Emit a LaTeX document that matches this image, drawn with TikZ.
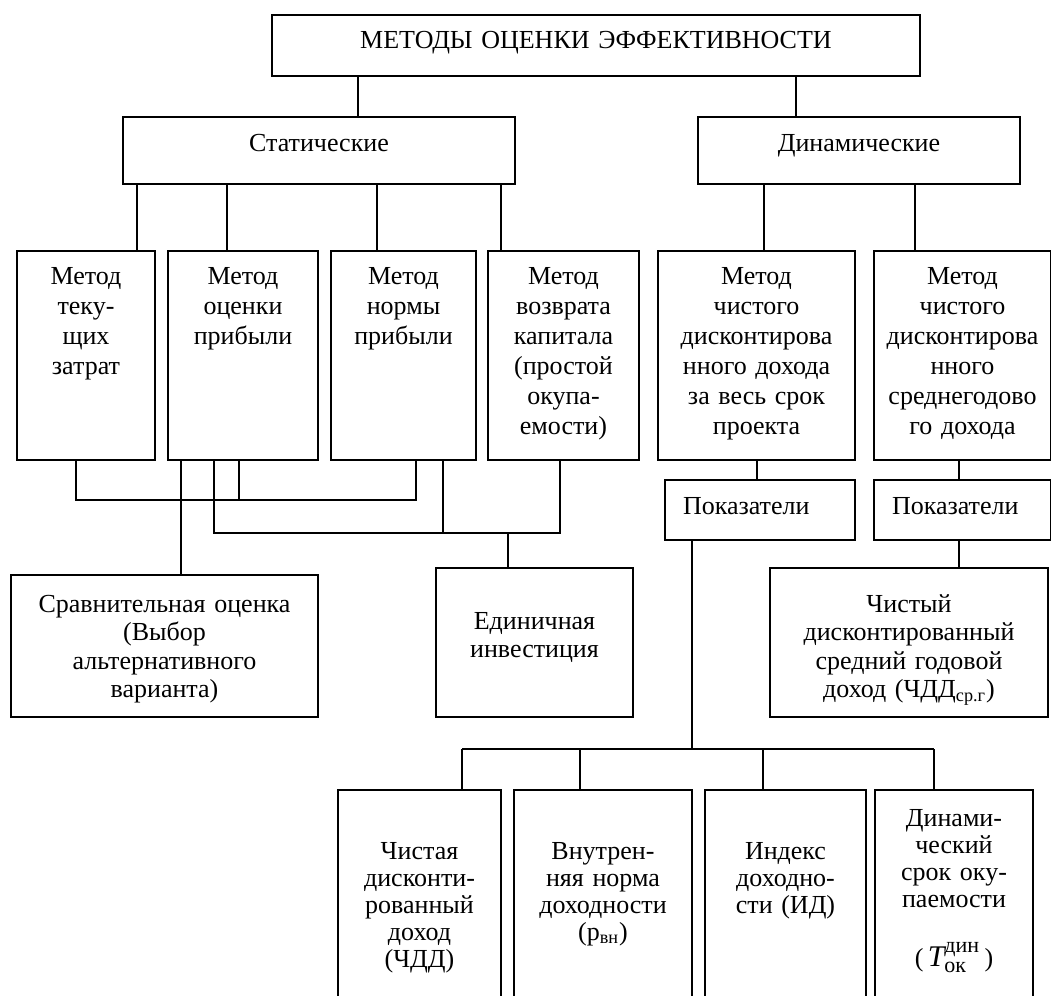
\documentclass[tikz,border=0pt]{standalone}
\usepackage{fontspec}
\setmainfont{Liberation Serif}

\tikzset{
  box/.style={draw, line width=0.75pt, anchor=north, align=center, inner xsep=2pt, inner ysep=0pt, font=\fontsize{13}{15}\selectfont},
  head/.style={box, text height=17.5pt, text depth=16pt},
  method/.style={box, text height=16.75pt, text depth=87.75pt},
  indic/.style={box, align=left, inner xsep=9pt, text height=17.25pt, text depth=12.75pt},
  result/.style={box, font=\fontsize{13}{14.25}\selectfont},
  crit/.style={box, font=\fontsize{13}{13.5}\selectfont, text height=34.75pt, text depth=80pt},
  link/.style={line width=0.75pt},
}

\begin{document}
\begin{tikzpicture}[x=0.5pt, y=-0.5pt]
\useasboundingbox (0,0) rectangle (1051,996);
\clip (0,0) rectangle (1051,996);

% upper levels
\node[box, text width=320pt, text height=17pt, text depth=13.5pt] (top) at (596,14) {МЕТОДЫ ОЦЕНКИ ЭФФЕКТИВНОСТИ};
\node[head, text width=192pt] (stat) at (319,116) {Статические};
\node[head, text width=157pt] (dyn) at (859,116) {Динамические};

% methods
\node[method, text width=65pt] (m1) at (86,250) {Метод\\теку-\\щих\\затрат};
\node[method, text width=71pt] (m2) at (243,250) {Метод\\оценки\\прибыли};
\node[method, text width=68.5pt] (m3) at (403.5,250) {Метод\\нормы\\прибыли};
\node[method, text width=71.5pt] (m4) at (563.5,250) {Метод\\возврата\\капитала\\(простой\\окупа-\\емости)};
\node[method, text width=94.5pt] (m5) at (756.5,250) {Метод\\чистого\\дисконтирова\\нного дохода\\за весь срок\\проекта};
\node[method, text width=84.5pt] (m6) at (962.5,250) {Метод\\чистого\\дисконтирова\\нного\\среднегодово\\го дохода};

% indicators
\node[indic, text width=77pt] (p1) at (760,479) {Показатели};
\node[indic, text width=70.5pt] (p2) at (962.5,479) {Показатели};

% results
\node[result, text width=149.5pt, text height=18.75pt, text depth=52.25pt] (cmp) at (164.5,574) {Сравнительная оценка\\(Выбор\\альтернативного\\варианта)};
\node[result, text width=94.5pt, text height=30.75pt, text depth=43.75pt] (single) at (534.5,567) {Единичная\\инвестиция};
\node[result, text width=135pt, text height=22.25pt, text depth=52.25pt] (avg) at (909,567) {Чистый\\дисконтированный\\средний годовой\\доход (ЧДД\textsubscript{ср.г})};

% criteria
\node[crit, text width=77.5pt] (c1) at (419.5,789) {Чистая\\дисконти-\\рованный\\доход\\(ЧДД)};
\node[crit, text width=85pt] (c2) at (603,789) {Внутрен-\\няя норма\\доходности\\(р\textsubscript{вн})};
\node[crit, text width=76.5pt] (c3) at (785.5,789) {Индекс\\доходно-\\сти (ИД)};
\node[crit, text width=75pt, text height=18.25pt, text depth=96.5pt] (c4) at (954,789) {Динами-\\ческий\\срок оку-\\паемости\\[16pt](\,$\mbox{\fontsize{15}{15}\selectfont\itshape T}^{\mbox{\fontsize{11}{11}\selectfont дин}}_{\mbox{\fontsize{11}{11}\selectfont ок}}$\,)};

\coordinate (busA) at (0,500);
\coordinate (busB) at (0,533);
\coordinate (busC) at (0,749);

\draw[link] (top.south -| 358,0) -- (stat.north -| 358,0);
\draw[link] (top.south -| 796,0) -- (dyn.north -| 796,0);
\foreach \x/\m in {137/m1, 227/m2, 377/m3, 501/m4}
  \draw[link] (stat.south -| \x,0) -- (\m.north -| \x,0);
\foreach \x/\m in {764/m5, 915/m6}
  \draw[link] (dyn.south -| \x,0) -- (\m.north -| \x,0);

% static methods to results
\draw[link] (m1.south -| 76,0) -- (busA -| 76,0) -- (busA -| 416,0) -- (m3.south -| 416,0);
\draw[link] (m2.south -| 239,0) -- (busA -| 239,0);
\draw[link] (m2.south -| 181,0) -- (cmp.north -| 181,0);
\draw[link] (m2.south -| 214,0) -- (busB -| 214,0) -- (busB -| 560,0) -- (m4.south -| 560,0);
\draw[link] (m3.south -| 443,0) -- (busB -| 443,0);
\draw[link] (busB -| 508,0) -- (single.north -| 508,0);

% dynamic methods
\draw[link] (m5.south -| 757,0) -- (p1.north -| 757,0);
\draw[link] (m6.south -| 959,0) -- (p2.north -| 959,0);
\draw[link] (p2.south -| 959,0) -- (avg.north -| 959,0);
\draw[link] (p1.south -| 692,0) -- (busC -| 692,0);
\draw[link] (busC -| 462,0) -- (busC -| 934,0);
\foreach \x/\c in {462/c1, 580/c2, 763/c3, 934/c4}
  \draw[link] (busC -| \x,0) -- (\c.north -| \x,0);
\end{tikzpicture}
\end{document}
